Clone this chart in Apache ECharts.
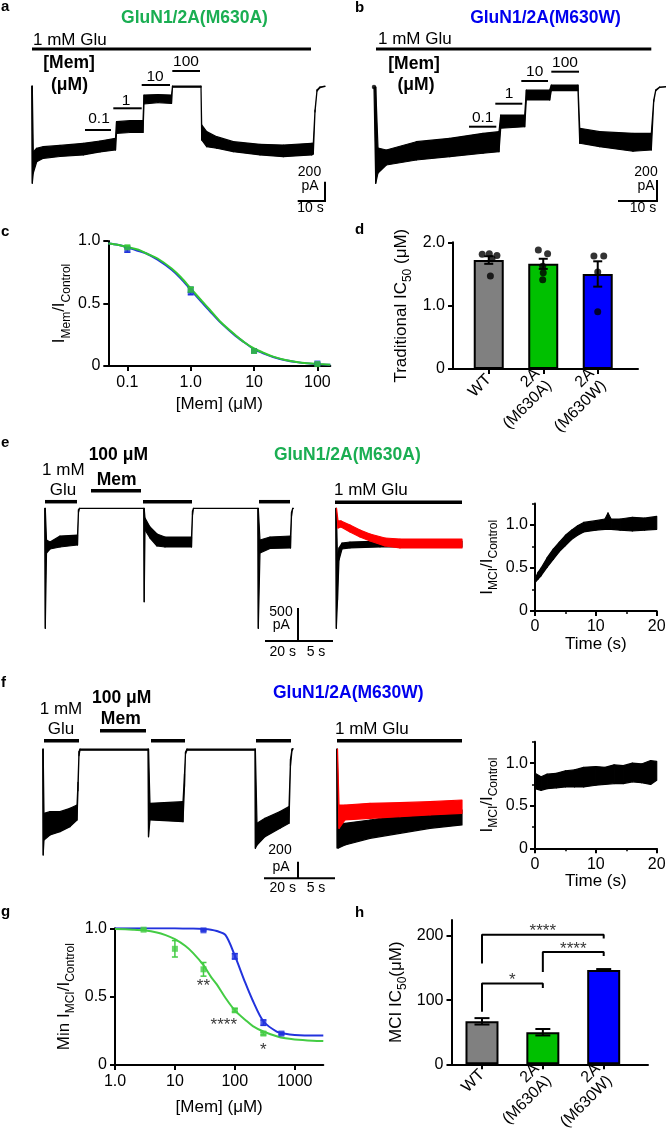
<!DOCTYPE html>
<html><head><meta charset="utf-8">
<script src="https://cdn.jsdelivr.net/npm/echarts@6/dist/echarts.min.js"></script>
<style>html,body{margin:0;padding:0;background:#fff}#c{width:666px;height:1136px}</style>
</head><body><div id="c"></div>
<script>
// ================= DATA =================
// Panel a trace: time (s), upper / lower envelope of current (pA)
const aT  = [0,0.22,0.59,1.85,4.30,10.48,19.11,25.30,31.04,31.41,36.41,41.22,41.59,46.78,51.78,52.15,62.70,62.96,64.81,68.52,74.67,84.56,93.19,103.70,104.30,104.93,105.67,106.78,108.63];
const aHi = [0,0,-682,-644,-627,-615,-593,-569,-541,-369,-359,-359,-93,-88,-93,0,0,-403,-472,-524,-576,-603,-610,-593,-590,-248,-41,-10,0];
const aLo = [0,-1005,-900,-783,-748,-729,-713,-682,-662,-489,-481,-481,-186,-171,-181,-13,-13,-558,-627,-644,-679,-713,-731,-713,-703,-269,-52,-16,-5];
// Panel b trace
const bT  = [0,0.43,1.0,3.08,10.58,18.93,27.25,31.25,31.68,37.68,38.08,43.93,44.33,51.0,51.43,56.43,64.75,69.33,69.93,70.43,71.43,73.0];
const bHi = [0,0,-581,-600,-521,-489,-441,-425,-267,-267,-29,-29,19,19,-393,-425,-441,-441,-124,-29,0,3];
const bLo = [0,-917,-819,-743,-695,-664,-631,-616,-393,-378,-124,-124,-35,-35,-536,-568,-612,-600,-140,-35,-3,0];
// Panel e, left trace
const eLT  = [0,0.36,1.09,3.21,9.27,19.88,20.48,21.09,60.0,60.3,60.79,63.82,68.06,72.91,88.97,89.58,90.18,129.15,129.45,130.48,136.55,148.97,149.58,150.3,150.79];
const eLHi = [0,0,-480,-511,-420,-405,-20,0,0,0,-147,-283,-389,-435,-435,-40,0,0,0,-480,-435,-420,-60,0,0];
const eLLo = [0,-1818,-677,-617,-586,-556,-60,-3,-3,-1415,-329,-450,-571,-586,-586,-100,-3,-3,-1818,-677,-609,-600,-120,-5,0];
// Panel e, overlaid traces (black = control, red = after Mem)
const eRT = [0,0.09,0.26,0.47,0.9,2.04,6.33,18.04];
const eRBlackHi = [0,0,-783,-601,-526,-511,-496,-496];
const eRBlackLo = [0,-1818,-1389,-783,-617,-601,-586,-586];
const eRRedT  = [0.12,0.33,0.76,2.04,3.47,4.9,7.04,9.18,18.04];
const eRRedHi = [0,-192,-192,-253,-329,-389,-450,-465,-465];
const eRRedLo = [0,-298,-283,-359,-435,-495,-571,-601,-601];
// Panel e, I_MCI/I_Control vs time
const ePT  = [0,0.5,1,2,3,4,5,6,7,8,10,11.5,12,12.5,14,16,18,20];
const ePHi = [0.37,0.45,0.50,0.62,0.72,0.80,0.88,0.94,0.99,1.03,1.05,1.07,1.14,1.07,1.07,1.09,1.08,1.10];
const ePLo = [0.33,0.37,0.41,0.51,0.60,0.69,0.76,0.83,0.88,0.92,0.94,0.95,0.95,0.95,0.94,0.93,0.94,0.95];
// Panel f, left trace
const fLT  = [0,0.29,0.76,4.29,10.18,16.06,20.18,20.76,21.35,21.94,61.94,62.24,63.12,82.53,83.41,84.0,84.88,124.88,125.1,126.06,130.76,139.59,144.88,145.76,146.65,147.24];
const fLHi = [0,0,-772,-752,-752,-712,-672,-400,-30,0,0,0,-652,-632,-300,-36,0,0,0,-892,-832,-752,-692,-120,0,5];
const fLLo = [0,-1272,-1092,-1032,-992,-932,-852,-500,-80,-15,-15,-1052,-852,-872,-450,-60,-15,-15,-1192,-1152,-1052,-952,-892,-200,-20,0];
// Panel f, overlaid traces
const fRT = [0,0.07,0.24,1.12,4.5,8.55,12.61,16.93];
const fRBlackHi = [0,0,-912,-892,-852,-792,-752,-732];
const fRBlackLo = [0,-1188,-1188,-1152,-1072,-1012,-952,-912];
const fRRedT  = [0.11,0.31,1.12,4.5,8.55,12.61,16.93];
const fRRedHi = [0,-672,-672,-652,-644,-632,-612];
const fRRedLo = [0,-952,-852,-832,-812,-792,-772];
// Panel f, I_MCI/I_Control vs time
const fPT  = [0,1,2,3.5,5,6.5,8,10,11.5,13,14.5,16,17.5,19,20];
const fPHi = [0.88,0.84,0.87,0.88,0.91,0.92,0.95,0.96,0.95,0.98,0.97,1.0,0.99,1.03,1.02];
const fPLo = [0.70,0.68,0.70,0.71,0.72,0.72,0.72,0.74,0.75,0.76,0.76,0.78,0.77,0.75,0.80];
// Panel c
const cConc = [0.1,1,10,100];
const cBlue = [0.93,0.60,0.12,0.02],  cBlueErr  = [0.02,0.03,0.01,0.005];
const cGreen = [0.95,0.61,0.12,0.015], cGreenErr = [0.01,0.02,0.01,0.005];
const cFitX = [0.05,0.07,0.1,0.15,0.2,0.3,0.5,0.7,1,1.5,2,3,5,7,10,15,20,30,50,70,100,160];
const cFitGreen = [0.98,0.97,0.95,0.93,0.90,0.86,0.78,0.71,0.62,0.52,0.45,0.35,0.25,0.19,0.14,0.10,0.075,0.05,0.03,0.022,0.016,0.01];
const cFitBlue  = [0.98,0.97,0.95,0.92,0.90,0.85,0.77,0.70,0.61,0.51,0.44,0.345,0.245,0.19,0.135,0.095,0.072,0.048,0.029,0.021,0.015,0.01];
// Panels d and h
const groups = ['WT','2A\n(M630A)','2A\n(M630W)'];
const dMean = [1.72,1.66,1.50], dSem = [0.06,0.08,0.20];
const dDots = [[1.81,1.82,1.79,1.74,1.47],[1.88,1.82,1.62,1.52,1.41],[1.785,1.785,1.53,0.905]];
const dJitter = [[-0.12,0.01,0.15,0.06,0.03],[-0.09,0.08,-0.01,0.0,-0.01],[-0.07,0.11,0.0,0.0]];
const hMean = [67,50,147], hSem = [5,5,1.5];
const hBrackets = [{from:0,to:1,top:126,left:82,right:119,sig:'*'},{from:1,to:2,top:175,left:144,right:169,sig:'****'},{from:0,to:2,top:202,left:157,right:196,sig:'****'}];
// Panel g
const gGreenX = [3,10,30,100,300], gGreenY = [0.99,0.85,0.70,0.40,0.23], gGreenErr = [0.005,0.06,0.05,0.012,0.01];
const gSig = ['','','**','****','*'];
const gBlueX = [30,100,300,600], gBlueY = [0.985,0.795,0.31,0.23], gBlueErr = [0.005,0.02,0.02,0.008];
const gFitX = [1,2,3,5,7,10,15,20,30,40,50,70,100,150,200,300,500,700,1000,2000,3000];
const gFitGreen = [0.995,0.99,0.985,0.97,0.95,0.92,0.87,0.82,0.73,0.645,0.59,0.49,0.40,0.33,0.285,0.245,0.21,0.195,0.187,0.178,0.175];
const gFitBlue  = [1,1,1,1,1,1,0.999,0.998,0.995,0.99,0.98,0.95,0.80,0.60,0.47,0.32,0.245,0.228,0.22,0.215,0.215];

// ================= STYLE =================
const FONT = '"Liberation Sans", Arial, Helvetica, sans-serif';
const GREEN_T = '#1aae52', BLUE_T = '#0000ee';
const BARC = ['#808080','#00c000','#0000ff'];
const C_GREEN = '#33c733', C_BLUE = '#2233dd';

const grids = [], xAxes = [], yAxes = [], series = [], G = [];
function addGrid(g){ grids.push(Object.assign({outerBoundsMode:'none', containLabel:false}, g)); return grids.length-1; }
function addX(a){ xAxes.push(a); return xAxes.length-1; }
function addY(a){ yAxes.push(a); return yAxes.length-1; }
const axLine = {show:true, onZero:false, lineStyle:{color:'#000', width:2}};
const axTick = (e={}) => Object.assign({show:true, length:5, lineStyle:{color:'#000', width:2}}, e);
const axLabel = (e={}) => Object.assign({show:true, color:'#000', fontSize:16, fontFamily:FONT}, e);
const rich = {
  n:{fontSize:17, fontFamily:FONT, color:'#000', verticalAlign:'top', lineHeight:21},
  s:{fontSize:12, fontFamily:FONT, color:'#000', verticalAlign:'bottom', lineHeight:21}
};
const nameStyle = {fontSize:17, fontFamily:FONT, color:'#000', lineHeight:21, rich};
const fmt1 = v => v === 0 ? '0' : v.toFixed(1);

function traceAxes(x0, pxX, tmax, y0, pxY, ymin, ymax){
  const gi = addGrid({left:x0, width:tmax*pxX, top:y0 - ymax*pxY, height:(ymax-ymin)*pxY});
  return {xi: addX({type:'value', gridIndex:gi, min:0, max:tmax, show:false}),
          yi: addY({type:'value', gridIndex:gi, min:ymin, max:ymax, show:false})};
}
function band(ax, t, hi, lo, color, z){
  const data = t.slice(0,-1).map((v,i)=>[v, hi[i], lo[i], t[i+1], hi[i+1], lo[i+1]]);
  series.push({type:'custom', xAxisIndex:ax.xi, yAxisIndex:ax.yi, data, z:z||2, silent:true,
    encode:{x:[0,3], y:[1,2,4,5]},
    renderItem:(p, api)=>{
      const A = api.coord([api.value(0), api.value(1)]), B = api.coord([api.value(3), api.value(4)]),
            C = api.coord([api.value(3), api.value(5)]), D = api.coord([api.value(0), api.value(2)]);
      return {type:'polygon', shape:{points:[A,B,C,D]}, style:{fill:color, stroke:color, lineWidth:1.2, lineJoin:'round'}};
    }});
}
function errBars(xi, yi, data, color, cap, lw, z){
  series.push({type:'custom', xAxisIndex:xi, yAxisIndex:yi, data, z:z||3, silent:true, encode:{x:0, y:1},
    renderItem:(p, api)=>{
      const x = api.value(0), y = api.value(1), e = api.value(2);
      const T = api.coord([x, y+e]), B = api.coord([x, y-e]);
      const st = {stroke:color, lineWidth:lw};
      return {type:'group', children:[
        {type:'line', shape:{x1:T[0], y1:T[1], x2:B[0], y2:B[1]}, style:st},
        {type:'line', shape:{x1:T[0]-cap, y1:T[1], x2:T[0]+cap, y2:T[1]}, style:st},
        {type:'line', shape:{x1:B[0]-cap, y1:B[1], x2:B[0]+cap, y2:B[1]}, style:st}]};
    }});
}
function txt(text, x, y, o={}){
  const align = o.align || 'center';
  G.push({type:'text', silent:true, z:10, style:{text, x, y, fill:o.color||'#000',
    font:(o.bold?'bold ':'') + (o.size||16) + 'px ' + FONT,
    textAlign:align, align, textVerticalAlign:'middle', verticalAlign:'middle'}});
}
function ln(x1,y1,x2,y2,w){ G.push({type:'line', silent:true, z:10, shape:{x1,y1,x2,y2}, style:{stroke:'#000', lineWidth:w||2}}); }

// ================= TRACES =================
const axA = traceAxes(31.7, 2.7, 108.63, 86, 0.0967, -1100, 50);
band(axA, aT, aHi, aLo, '#000');
const axB = traceAxes(374, 4.0, 73, 87, 0.105, -1000, 60);
band(axB, bT, bHi, bLo, '#000');
series.push({type:'scatter', xAxisIndex:axB.xi, yAxisIndex:axB.yi, data:[[bT[0], bHi[0]]], symbolSize:4.5, itemStyle:{color:'#000'}, silent:true, z:3});
const axEL = traceAxes(44.7, 1.65, 150.79, 508.3, 0.066, -1900, 50);
band(axEL, eLT, eLHi, eLLo, '#000');
const axER = traceAxes(335.7, 7.0, 18.04, 508.3, 0.066, -1900, 50);
band(axER, eRT, eRBlackHi, eRBlackLo, '#000', 2);
band(axER, eRRedT, eRRedHi, eRRedLo, '#ff0000', 3);
const axFL = traceAxes(42.7, 1.7, 147.24, 749, 0.0833, -1300, 50);
band(axFL, fLT, fLHi, fLLo, '#000');
const axFR = traceAxes(336.7, 7.4, 16.93, 749, 0.0833, -1300, 50);
band(axFR, fRT, fRBlackHi, fRBlackLo, '#000', 2);
band(axFR, fRRedT, fRRedHi, fRRedLo, '#ff0000', 3);

// ================= PANEL c =================
const cg = addGrid({left:108.3, top:241, width:222, height:125});
const cx = addX({type:'log', logBase:10, gridIndex:cg, min:0.05, max:160, axisLine:axLine,
  axisTick:axTick({customValues:cConc}), minorTick:{show:false}, splitLine:{show:false}, minorSplitLine:{show:false},
  axisLabel:axLabel({customValues:cConc, margin:9, formatter:v=>{const r=Math.round(v*10)/10; return r===1?'1.0':String(r);}}),
  name:'[Mem] (μM)', nameLocation:'middle', nameGap:30, nameTextStyle:{fontSize:17, fontFamily:FONT, color:'#000'}});
const cy = addY({type:'value', gridIndex:cg, min:0, max:1, interval:0.5, axisLine:axLine, axisTick:axTick(),
  axisLabel:axLabel({margin:8, formatter:fmt1}), splitLine:{show:false},
  name:'{n|I}{s|Mem}{n|/I}{s|Control}', nameLocation:'middle', nameGap:36, nameTextStyle:nameStyle});
series.push({type:'line', xAxisIndex:cx, yAxisIndex:cy, data:cFitX.map((x,i)=>[x,cFitBlue[i]]), smooth:0.3, symbol:'none', lineStyle:{color:C_BLUE, width:2}, z:2, silent:true});
series.push({type:'line', xAxisIndex:cx, yAxisIndex:cy, data:cFitX.map((x,i)=>[x,cFitGreen[i]]), smooth:0.3, symbol:'none', lineStyle:{color:C_GREEN, width:2}, z:2, silent:true});
errBars(cx, cy, cConc.map((x,i)=>[x,cBlue[i],cBlueErr[i]]), C_BLUE, 3, 1.5);
series.push({type:'scatter', xAxisIndex:cx, yAxisIndex:cy, data:cConc.map((x,i)=>[x,cBlue[i]]), symbol:'rect', symbolSize:6, itemStyle:{color:C_BLUE}, z:4});
errBars(cx, cy, cConc.map((x,i)=>[x,cGreen[i],cGreenErr[i]]), C_GREEN, 3, 1.5);
series.push({type:'scatter', xAxisIndex:cx, yAxisIndex:cy, data:cConc.map((x,i)=>[x,cGreen[i]]), symbol:'rect', symbolSize:6, itemStyle:{color:C_GREEN}, z:5});

// ================= PANEL d =================
const dTop = 242.3, dH = 126.7;
const dgW = addGrid({left:453, top:dTop, width:185, height:dH});
const dxW = addX({type:'value', gridIndex:dgW, min:-0.656, max:2.739, axisLine:axLine, axisTick:{show:false}, axisLabel:{show:false}, splitLine:{show:false}});
const dyW = addY({type:'value', gridIndex:dgW, min:0, max:2, interval:1, axisLine:axLine, axisTick:axTick(),
  axisLabel:axLabel({margin:8, formatter:fmt1}), splitLine:{show:false},
  name:'{n|Traditional IC}{s|50}{n| (μM)}', nameLocation:'middle', nameGap:39, nameTextStyle:nameStyle});
const dgN = addGrid({left:461.5, top:dTop, width:163.5, height:dH});
addX({type:'category', gridIndex:dgN, data:groups, boundaryGap:true, axisLine:{show:false},
  axisTick:axTick({alignWithLabel:true}), axisLabel:axLabel({rotate:45, margin:8, interval:0, lineHeight:17}), splitLine:{show:false}});
addY({type:'value', gridIndex:dgN, min:0, max:2, show:false});
series.push({type:'bar', xAxisIndex:dxW, yAxisIndex:dyW, barWidth:30, z:2,
  data:dMean.map((v,i)=>({value:[i,v], itemStyle:{color:BARC[i], borderColor:'#000', borderWidth:2}}))});
errBars(dxW, dyW, dMean.map((v,i)=>[i,v,dSem[i]]), '#000', 4.5, 2);
series.push({type:'scatter', xAxisIndex:dxW, yAxisIndex:dyW, symbolSize:7, itemStyle:{color:'#000'}, z:5,
  data:dDots.flatMap((arr,gi)=>arr.map((v,k)=>[gi + dJitter[gi][k], v]))});

// ================= PANEL h =================
const hTop = 920, hH = 144.3;
const hgW = addGrid({left:451.5, top:hTop, width:196.5, height:hH});
const hxW = addX({type:'value', gridIndex:hgW, min:-0.501, max:2.728, axisLine:axLine, axisTick:{show:false}, axisLabel:{show:false}, splitLine:{show:false}});
const hyW = addY({type:'value', gridIndex:hgW, min:0, max:225, interval:100, axisLine:axLine,
  axisTick:axTick({customValues:[0,100,200]}), axisLabel:axLabel({margin:8, customValues:[0,100,200]}), splitLine:{show:false},
  name:'{n|MCI IC}{s|50}{n|(μM)}', nameLocation:'middle', nameGap:43, nameTextStyle:nameStyle});
const hgN = addGrid({left:451.5, top:hTop, width:182.55, height:hH});
addX({type:'category', gridIndex:hgN, data:groups, boundaryGap:true, axisLine:{show:false},
  axisTick:axTick({alignWithLabel:true}), axisLabel:axLabel({rotate:45, margin:8, interval:0, lineHeight:17}), splitLine:{show:false}});
addY({type:'value', gridIndex:hgN, min:0, max:225, show:false});
series.push({type:'bar', xAxisIndex:hxW, yAxisIndex:hyW, barWidth:33, z:2,
  data:hMean.map((v,i)=>({value:[i,v], itemStyle:{color:BARC[i], borderColor:'#000', borderWidth:2}}))});
errBars(hxW, hyW, hMean.map((v,i)=>[i,v,hSem[i]]), '#000', 7.5, 2);
hBrackets.forEach(b=>{
  series.push({type:'line', xAxisIndex:hxW, yAxisIndex:hyW, symbol:'none', silent:true, z:4,
    lineStyle:{color:'#000', width:2}, data:[[b.from,b.left],[b.from,b.top],[b.to,b.top],[b.to,b.right]]});
});
series.push({type:'scatter', xAxisIndex:hxW, yAxisIndex:hyW, symbolSize:0, z:6, silent:true,
  data:hBrackets.map(b=>[(b.from+b.to)/2, b.top, b.sig]),
  label:{show:true, position:'inside', offset:[0,-3], formatter:p=>p.value[2], color:'#000', fontSize:17, fontFamily:FONT}});

// ================= PANEL g =================
const gg = addGrid({left:115, top:928.3, width:208.3, height:136.7});
const gTicks = [1,10,100,1000];
const gx = addX({type:'log', logBase:10, gridIndex:gg, min:1, max:3000, axisLine:axLine,
  axisTick:axTick({customValues:gTicks}), minorTick:{show:false}, splitLine:{show:false}, minorSplitLine:{show:false},
  axisLabel:axLabel({customValues:gTicks, margin:9, formatter:v=>{const r=Math.round(v); return r===1?'1.0':String(r);}}),
  name:'[Mem] (μM)', nameLocation:'middle', nameGap:34, nameTextStyle:{fontSize:17, fontFamily:FONT, color:'#000'}});
const gy = addY({type:'value', gridIndex:gg, min:0, max:1, interval:0.5, axisLine:axLine, axisTick:axTick(),
  axisLabel:axLabel({margin:8, formatter:fmt1}), splitLine:{show:false},
  name:'{n|Min I}{s|MCI}{n|/I}{s|Control}', nameLocation:'middle', nameGap:38, nameTextStyle:nameStyle});
series.push({type:'line', xAxisIndex:gx, yAxisIndex:gy, data:gFitX.map((x,i)=>[x,gFitBlue[i]]), smooth:0.3, symbol:'none', lineStyle:{color:C_BLUE, width:2}, z:2, silent:true});
series.push({type:'line', xAxisIndex:gx, yAxisIndex:gy, data:gFitX.map((x,i)=>[x,gFitGreen[i]]), smooth:0.3, symbol:'none', lineStyle:{color:'#44cc44', width:2}, z:2, silent:true});
errBars(gx, gy, gBlueX.map((x,i)=>[x,gBlueY[i],gBlueErr[i]]), C_BLUE, 3, 1.5);
series.push({type:'scatter', xAxisIndex:gx, yAxisIndex:gy, data:gBlueX.map((x,i)=>[x,gBlueY[i]]), symbol:'rect', symbolSize:6, itemStyle:{color:C_BLUE}, z:4});
errBars(gx, gy, gGreenX.map((x,i)=>[x,gGreenY[i],gGreenErr[i]]), '#44cc44', 3, 1.5);
const sigOffset = {'**':[0,17], '****':[-11,14.5], '*':[0,17]};
series.push({type:'scatter', xAxisIndex:gx, yAxisIndex:gy, symbol:'rect', symbolSize:6, itemStyle:{color:'#44cc44'}, z:5,
  data:gGreenX.map((x,i)=>({value:[x,gGreenY[i]], label:{show:!!gSig[i], formatter:gSig[i], position:'inside', offset:sigOffset[gSig[i]]||[0,0], color:'#000', fontSize:17, fontFamily:FONT}}))});

// ================= PANELS e/f right plots =================
function ratioPlot(top, height, t, hi, lo){
  const gi = addGrid({left:535, top, width:121.7, height});
  const xi = addX({type:'value', gridIndex:gi, min:0, max:20, interval:10, axisLine:axLine, axisTick:axTick(),
    minorTick:{show:true, splitNumber:2, length:3, lineStyle:{color:'#000', width:1.5}}, splitLine:{show:false},
    axisLabel:axLabel({margin:8}), name:'Time (s)', nameLocation:'middle', nameGap:22, nameTextStyle:{fontSize:17, fontFamily:FONT, color:'#000'}});
  const yi = addY({type:'value', gridIndex:gi, min:0, max:1.25, interval:0.25, axisLine:axLine,
    axisTick:axTick({customValues:[0,0.5,1]}), axisLabel:axLabel({margin:7, customValues:[0,0.5,1], formatter:fmt1}), splitLine:{show:false},
    name:'{n|I}{s|MCI}{n|/I}{s|Control}', nameLocation:'middle', nameGap:35, nameTextStyle:nameStyle});
  addY({type:'value', gridIndex:gi, position:'left', min:0, max:1.25, interval:0.25, axisLine:{show:false},
    axisTick:{show:true, length:3, customValues:[0.25,0.75,1.25], lineStyle:{color:'#000', width:1.5}}, axisLabel:{show:false}, splitLine:{show:false}});
  band({xi, yi}, t, hi, lo, '#000');
}
ratioPlot(503.5, 107.5, ePT, ePHi, ePLo);
ratioPlot(741.8, 106.5, fPT, fPHi, fPLo);

// ================= ANNOTATIONS =================
[['a',1,6.5],['b',355,7.5],['c',1,231.5],['d',355,229.8],['e',1,443],['f',1,683],['g',1,912],['h',355,913]]
  .forEach(([s,x,y])=>txt(s,x,y,{bold:1,size:15,align:'left'}));
txt('GluN1/2A(M630A)', 194.5, 18, {bold:1, size:17.5, color:GREEN_T});
txt('GluN1/2A(M630W)', 545.5, 18, {bold:1, size:17.5, color:BLUE_T});
txt('GluN1/2A(M630A)', 347.3, 455, {bold:1, size:17.5, color:GREEN_T});
txt('GluN1/2A(M630W)', 348.3, 693, {bold:1, size:17.5, color:BLUE_T});
// a
txt('1 mM Glu', 33, 40, {size:17, align:'left'}); ln(32,49,311,49,3);
txt('[Mem]', 69, 63, {bold:1, size:17.5}); txt('(μM)', 69.5, 85, {bold:1, size:17.5});
ln(85,130,111,130); txt('0.1',99,118.6,{size:15.5});
ln(113.3,108.3,141.7,108.3); txt('1',126,100.6,{size:15.5});
ln(141.7,85,170,85); txt('10',155,76.3,{size:15.5});
ln(172.3,71,200,71); txt('100',186,61.3,{size:15.5});
ln(325,181.7,325,201); ln(297.7,201,326,201);
txt('200',309.5,171.8,{size:14}); txt('pA',310,186.6,{size:14}); txt('10 s',310.5,208.4,{size:14});
// b
txt('1 mM Glu', 378, 39, {size:17, align:'left'}); ln(376,49,651.3,49,3);
txt('[Mem]', 414, 64, {bold:1, size:17.5}); txt('(μM)', 416, 85, {bold:1, size:17.5});
ln(469,126.7,496.3,126.7); txt('0.1',482.7,117.3,{size:15.5});
ln(495.3,103.7,522.3,103.7); txt('1',509,94,{size:15.5});
ln(521.3,81,548,81); txt('10',534.7,72,{size:15.5});
ln(551.3,71.7,579,71.7); txt('100',565,63,{size:15.5});
ln(657,180,657,201); ln(618,201,658,201);
txt('200',646,171.8,{size:14}); txt('pA',646,186.6,{size:14}); txt('10 s',643,208.4,{size:14});
// e
txt('1 mM',63.3,470.8,{size:17}); txt('Glu',63,490.8,{size:17});
txt('100 μM',118.3,455,{bold:1,size:17.5}); txt('Mem',116.7,480,{bold:1,size:17.5});
ln(45,501.7,77,501.7,3.5); ln(91,490.7,141,490.7,3.5); ln(143,501.7,192,501.7,3.5); ln(259,501.7,290,501.7,3.5);
txt('1 mM Glu',334,490.8,{size:17,align:'left'}); ln(335,502.3,462,502.3,3.5);
ln(298,608,298,641); ln(265,641,333,641);
txt('500',281,611.8,{size:14}); txt('pA',281.3,625,{size:14}); txt('20 s',282.7,651.8,{size:14}); txt('5 s',316,651.8,{size:14});
// f
txt('1 mM',61,709.1,{size:17}); txt('Glu',61,729.1,{size:17});
txt('100 μM',121.7,698,{bold:1,size:17.5}); txt('Mem',120.8,719,{bold:1,size:17.5});
ln(44,740.7,79,740.7,3.5); ln(100,730.7,146,730.7,3.5); ln(151,740.7,185,740.7,3.5); ln(256,740.7,291,740.7,3.5);
txt('1 mM Glu',335,729.1,{size:17,align:'left'}); ln(337,740.7,462,740.7,3.5);
ln(298,861.7,298,878.3); ln(264,878.3,335,878.3);
txt('200',280,850,{size:14}); txt('pA',281,866.8,{size:14}); txt('20 s',282.7,888.4,{size:14}); txt('5 s',316,888.4,{size:14});

const chart = echarts.init(document.getElementById('c'), null, {renderer:'canvas', width:666, height:1136});
chart.setOption({animation:false, backgroundColor:'#fff', textStyle:{fontFamily:FONT},
  grid:grids, xAxis:xAxes, yAxis:yAxes, series, graphic:{elements:G}});
</script></body></html>
